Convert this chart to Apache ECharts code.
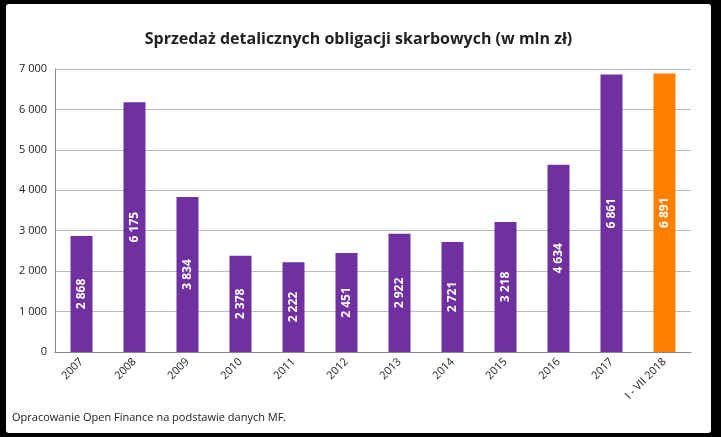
<!DOCTYPE html><html><head><meta charset="utf-8">
<script src="https://cdn.jsdelivr.net/npm/echarts@6/dist/echarts.min.js"></script>
<style>html,body{margin:0;background:#000;}#c{position:absolute;left:6px;top:4px;width:705px;height:429px;background:#fff;border-radius:3px}</style>
</head><body><div id="c"></div><script>
const categories=['2007','2008','2009','2010','2011','2012','2013','2014','2015','2016','2017','I - VII 2018'];
const values=[2868,6175,3834,2378,2222,2451,2922,2721,3218,4634,6861,6891];
const yTicks=[0,1000,2000,3000,4000,5000,6000,7000];
const fmt=v=>String(v).replace(/\B(?=(\d{3})+(?!\d))/g,' ');
const ch=echarts.init(document.getElementById('c'));
ch.setOption({
 title:{text:'Sprzedaż detalicznych obligacji skarbowych (w mln zł)',left:'center',top:22,textStyle:{fontFamily:'Open Sans',fontSize:16,fontWeight:'bold',color:'#222'}},
 grid:{left:49,right:20,top:65,bottom:81},
 xAxis:{type:'category',data:categories,axisTick:{show:false},axisLine:{lineStyle:{color:'#888'}},
  axisLabel:{rotate:45,fontSize:11,color:'#222',fontFamily:'Open Sans',interval:0}},
 yAxis:{type:'value',min:0,max:7000,interval:1000,axisLine:{show:true,lineStyle:{color:'#888'}},
  splitLine:{lineStyle:{color:'#bbb'}},axisLabel:{fontSize:11,color:'#222',fontFamily:'Open Sans',formatter:fmt}},
 series:[{type:'bar',barWidth:22,data:values.map((v,i)=>({value:v,itemStyle:{color:i===values.length-1?'#FF7F00':'#7030A0'}})),
  label:{show:true,position:'inside',rotate:90,color:'#fff',fontWeight:'bold',fontSize:12,fontFamily:'Open Sans',formatter:p=>fmt(p.value)}}],
 graphic:[{type:'text',left:6,bottom:10,style:{text:'Opracowanie Open Finance na podstawie danych MF.',fontSize:11,fill:'#222',fontFamily:'Open Sans'}}]
});
</script></body></html>
